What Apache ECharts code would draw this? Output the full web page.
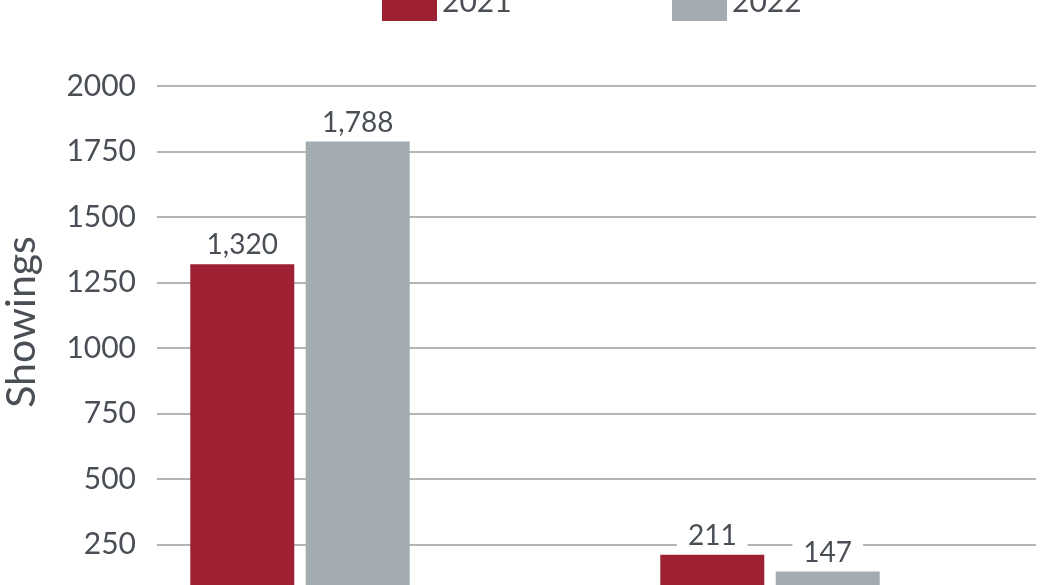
<!DOCTYPE html>
<html>
<head>
<meta charset="utf-8">
<script src="https://cdn.jsdelivr.net/npm/echarts@6/dist/echarts.min.js"></script>
<style>
html,body{margin:0;padding:0;background:#fff;}
#c{width:1040px;height:585px;}
</style>
</head>
<body>
<div id="c"></div>
<script>
// Data
const categories = ['Category A', 'Category B'];
const seriesNames = ['2021', '2022'];
const values2021 = [1320, 211];
const values2022 = [1788, 147];
const yTicks = [0, 250, 500, 750, 1000, 1250, 1500, 1750, 2000];

const textColor = '#4a4f56';
const font = 'Lato';
const yMin = yTicks[0], yMax = yTicks[yTicks.length - 1], yInterval = yTicks[1] - yTicks[0];

const labelOpt = {
  show: true,
  position: 'top',
  distance: 5,
  fontFamily: font,
  fontSize: 28,
  lineHeight: 28,
  color: textColor,
  backgroundColor: '#ffffff',
  padding: [0, 11],
  formatter: p => p.value.toLocaleString('en-US')
};

const chart = echarts.init(document.getElementById('c'), null, {renderer: 'canvas'});
chart.setOption({
  animation: false,
  backgroundColor: '#ffffff',
  legend: [
    {
      data: [seriesNames[0]], left: 377, top: -22,
      itemWidth: 55, itemHeight: 38, icon: 'rect', itemGap: 0,
      textStyle: {fontFamily: font, fontSize: 30, color: textColor}
    },
    {
      data: [seriesNames[1]], left: 667, top: -22,
      itemWidth: 55, itemHeight: 38, icon: 'rect', itemGap: 0,
      textStyle: {fontFamily: font, fontSize: 30, color: textColor}
    }
  ],
  grid: [
    {left: 157, right: 4, top: 86, bottom: -25, containLabel: false, outerBoundsMode: 'none'},
    {left: 65, right: 35, top: 86, bottom: -25, containLabel: false, outerBoundsMode: 'none'}
  ],
  xAxis: [
    {type: 'category', gridIndex: 0, data: categories, show: false},
    {type: 'category', gridIndex: 1, data: categories,
     axisLine: {show: false}, axisTick: {show: false}, axisLabel: {show: false}}
  ],
  yAxis: [
    {
      type: 'value', gridIndex: 0, min: yMin, max: yMax, interval: yInterval,
      name: 'Showings', nameLocation: 'middle', nameGap: 115,
      nameTextStyle: {fontFamily: font, fontSize: 41, color: textColor, padding: [0, 0, 0, 52]},
      axisLine: {show: false}, axisTick: {show: false},
      axisLabel: {fontFamily: font, fontSize: 30, color: textColor, margin: 21,
                  formatter: v => String(v)},
      splitLine: {show: true, lineStyle: {color: '#9c9c9c', width: 1.5}}
    },
    {
      type: 'value', gridIndex: 1, min: yMin, max: yMax, interval: yInterval,
      show: false, splitLine: {show: false}
    }
  ],
  series: [
    {
      name: seriesNames[0], type: 'bar', xAxisIndex: 1, yAxisIndex: 1,
      data: values2021, barWidth: 104, barGap: '11%',
      itemStyle: {color: '#9d2132'}, label: labelOpt, z: 3
    },
    {
      name: seriesNames[1], type: 'bar', xAxisIndex: 1, yAxisIndex: 1,
      data: values2022, barWidth: 104, barGap: '11%',
      itemStyle: {color: '#a2acb1'}, label: labelOpt, z: 3
    }
  ]
});
</script>
</body>
</html>
